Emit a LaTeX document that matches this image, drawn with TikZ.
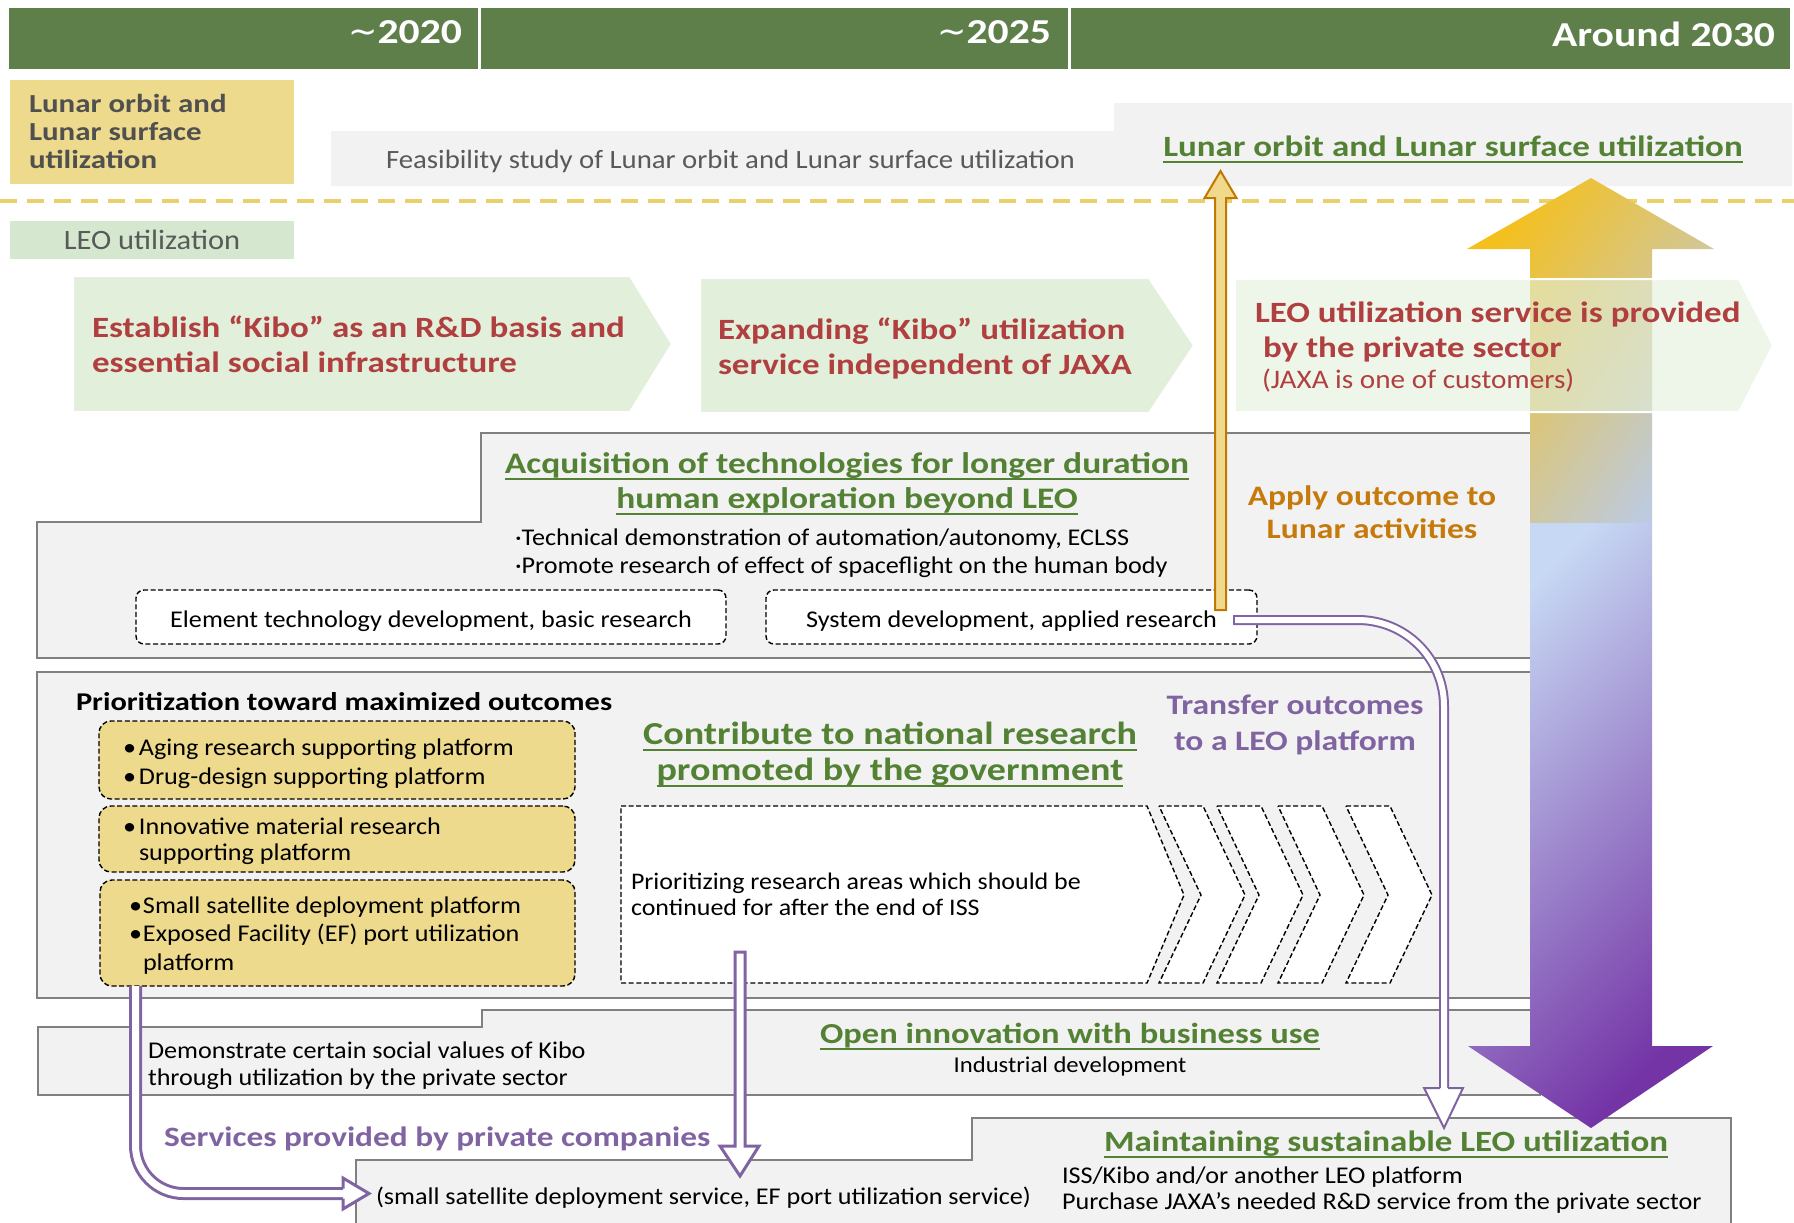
\documentclass[tikz,border=0pt]{standalone}
\usepackage{fontspec}
\setmainfont{Carlito}[FakeStretch=1.09]
\newfontfamily\bstr{Carlito}[FakeStretch=1.19]
\newfontfamily\djv{DejaVu Sans}
\newsavebox{\myulbox}
\newcommand{\myul}[1]{\sbox{\myulbox}{#1}\leavevmode\rlap{\vrule height -2.4pt depth 3.4pt width \wd\myulbox}\usebox{\myulbox}}
\usetikzlibrary{calc}
\definecolor{hdr}{HTML}{5E7F4A}
\definecolor{grn}{HTML}{548235}
\definecolor{txtred}{HTML}{B04040}
\definecolor{txtorg}{HTML}{C77A0C}
\definecolor{purp}{HTML}{8064A2}
\definecolor{ylw}{HTML}{EEDA8C}
\definecolor{ylwline}{HTML}{E9D06A}
\definecolor{gfill}{HTML}{F2F2F2}
\definecolor{gline}{HTML}{808080}
\definecolor{chev}{HTML}{E2EFDA}
\definecolor{leo}{HTML}{D5E8CF}
\definecolor{dgray}{HTML}{505050}
\definecolor{mgray}{HTML}{595959}
\definecolor{oafill}{HTML}{F0D98C}
\definecolor{oaline}{HTML}{C07800}
\definecolor{upY}{HTML}{F5C01C}
\definecolor{upB}{HTML}{BCCBE3}
\definecolor{dnB}{HTML}{C6D8F3}
\definecolor{dnP}{HTML}{7434A6}
\begin{document}
\begin{tikzpicture}[x=0.5pt,y=-0.5pt,
  every node/.style={inner sep=0pt,outer sep=0pt},
  hdrtxt/.style={text=white,font=\bstr\fontsize{17.5}{20}\selectfont\bfseries},
  graybox/.style={fill=gfill,draw=gline,line width=1pt},
  dbox/.style={draw=black,line width=0.7pt,dash pattern=on 2.5pt off 1.3pt},
  ybox/.style={dbox,fill=ylw,rounded corners=6pt},
  wbox/.style={dbox,fill=white,rounded corners=4pt},
  chevshape/.style={fill=chev,draw=white,line width=1pt},
  bodytxt/.style={font=\fontsize{12}{14}\selectfont},
  gtitle/.style={text=grn,font=\bstr\fontsize{14.7}{18}\selectfont\bfseries,align=center},
  chevtxt/.style={text=txtred,font=\bstr\fontsize{14.7}{17.5}\selectfont\bfseries,align=left},
  purptxt/.style={text=purp,font=\bstr\fontsize{14.1}{18}\selectfont\bfseries,align=center},
  hollowthin/.style={draw=purp,line width=1pt,double=white,double distance=3pt},
  hollowthick/.style={draw=purp,line width=1.5pt,double=white,double distance=3.5pt},
]
\useasboundingbox (0,0) rectangle (1794,1222);

% ---------- header ----------
\fill[hdr] (9,8) rectangle (478,69);
\fill[hdr] (481,8) rectangle (1068,69);
\fill[hdr] (1071,8) rectangle (1790,69);
\node[hdrtxt,anchor=base east] (y1) at (462,43) {{\djv\mdseries ∼}2020};
\node[hdrtxt,anchor=base east] (y2) at (1051,43) {{\djv\mdseries ∼}2025};
\node[hdrtxt,anchor=base east] (y3) at (1775,46) {Around 2030};

% ---------- lunar row ----------
\node[fill=ylw,minimum width=142pt,minimum height=52pt] (lunarlbl) at (152,132) {};
\node[anchor=base west,align=left,text=dgray,font=\bstr\fontsize{13}{14}\selectfont\bfseries] (lunarlbltxt) at (29,168) {Lunar orbit and\\Lunar surface\\utilization};
\fill[gfill] (331,131) -- (1114,131) -- (1114,103) -- (1792,103) -- (1792,186) -- (331,186) -- cycle;
\node[anchor=base west,text=mgray,font=\fontsize{13.2}{15}\selectfont] (feas) at (386,168) {Feasibility study of Lunar orbit and Lunar surface utilization};
\node[gtitle,anchor=base] (lunarhead) at (1453,156) {\myul{Lunar orbit and Lunar surface utilization}};

\draw[ylwline,line width=2pt,dash pattern=on 8.5pt off 5pt] (0,201) -- (1794,201);

% ---------- LEO row ----------
\node[fill=leo,minimum width=142pt,minimum height=19pt] (leolbl) at (152,240) {};
\node[anchor=base,text=mgray,font=\fontsize{14}{15}\selectfont] (leolbltxt) at (152,249) {LEO utilization};

\draw[chevshape] (73,276) -- (630,276) -- (672,344) -- (630,412) -- (73,412) -- cycle;
\draw[chevshape] (700,278) -- (1149,278) -- (1194,345.5) -- (1149,413) -- (700,413) -- cycle;
\node[chevtxt,anchor=base west] (c1t) at (92,372) {Establish “Kibo” as an R\&D basis and\\essential social infrastructure};
\node[chevtxt,anchor=base west] (c2t) at (718,374) {Expanding “Kibo” utilization\\service independent of JAXA};

% ---------- technology box ----------
\draw[graybox] (37,522) -- (481,522) -- (481,433) -- (1540,433) -- (1540,658) -- (37,658) -- cycle;
\node[gtitle,font=\bstr\fontsize{14.9}{17.5}\selectfont\bfseries,anchor=base] (acq) at (847,508) {\myul{Acquisition of technologies for longer duration}\\\myul{human exploration beyond LEO}};
\node[bodytxt,anchor=base west,align=left] (acqb) at (515,573) {·Technical demonstration of automation/autonomy, ECLSS\\·Promote research of effect of spaceflight on the human body};
\node[wbox,minimum width=295pt,minimum height=27pt] (elem) at (431,617) {};
\node[bodytxt,anchor=base] (elemt) at (431,627) {Element technology development, basic research};
\node[wbox,minimum width=245.5pt,minimum height=27pt] (sys) at (1011.5,617) {};
\node[bodytxt,anchor=base] (syst) at (1011.5,627) {System development, applied research};
\node[text=txtorg,font=\bstr\fontsize{14.1}{16.5}\selectfont\bfseries,align=center,anchor=base] (apply) at (1372,538) {Apply outcome to\\Lunar activities};

% ---------- prioritization box ----------
\draw[graybox] (37,672) rectangle (1540,998);
\node[anchor=base west,font=\bstr\fontsize{12.8}{15}\selectfont\bfseries] (prio) at (76,710) {Prioritization toward maximized outcomes};
\node[ybox,minimum width=238pt,minimum height=39pt] (boxa) at (337,760) {};
\node[ybox,minimum width=238pt,minimum height=33pt] (boxb) at (337,839) {};
\node[ybox,minimum width=237.5pt,minimum height=53pt] (boxc) at (337.5,933) {};
\node[anchor=base west,align=left,font=\fontsize{12}{14.5}\selectfont] (boxat) at (123,784) {\makebox[8pt][l]{•}Aging research supporting platform\\\makebox[8pt][l]{•}Drug-design supporting platform};
\node[anchor=base west,align=left,font=\fontsize{12}{13}\selectfont] (boxbt) at (123,860) {\makebox[8pt][l]{•}Innovative material research\\\hspace*{8pt}supporting platform};
\node[anchor=base west,align=left,font=\fontsize{12}{14.2}\selectfont] (boxct) at (129,970) {\makebox[7pt][l]{•}Small satellite deployment platform\\\makebox[7pt][l]{•}Exposed Facility (EF) port utilization\\\hspace*{7pt}platform};
\node[gtitle,font=\bstr\fontsize{16}{18}\selectfont\bfseries,anchor=base] (contrib) at (890,780) {\myul{Contribute to national research}\\\myul{promoted by the government}};
\node[purptxt,anchor=base] (transfer) at (1295,750) {Transfer outcomes\\to a LEO platform};
\draw[dbox,fill=white] (621,806) -- (1147,806) -- (1184,895) -- (1147,983) -- (621,983) -- cycle;
\foreach \xa in {1159,1217,1278,1346}{
  \draw[dbox,fill=white] (\xa,806) -- (\xa+44,806) -- (\xa+86,895) -- (\xa+44,983) -- (\xa,983) -- (\xa+42,895) -- cycle;
}
\node[anchor=base west,align=left,font=\fontsize{11.9}{13}\selectfont] (prt) at (631,915) {Prioritizing research areas which should be\\continued for after the end of ISS};

% ---------- open innovation box ----------
\draw[graybox] (38,1027) -- (482,1027) -- (482,1010) -- (1540,1010) -- (1540,1095) -- (38,1095) -- cycle;
\node[gtitle,font=\bstr\fontsize{14.5}{18}\selectfont\bfseries,anchor=base] (openi) at (1070,1043) {\myul{Open innovation with business use}};
\node[anchor=base,font=\fontsize{11.3}{13}\selectfont] (indus) at (1070,1072) {Industrial development};
\node[anchor=base west,align=left,font=\fontsize{12}{13.5}\selectfont] (demo) at (148,1085) {Demonstrate certain social values of Kibo\\through utilization by the private sector};

% ---------- bottom box ----------
\draw[graybox] (356,1235) -- (356,1160) -- (972,1160) -- (972,1118) -- (1731,1118) -- (1731,1235);
\node[purptxt,font=\bstr\fontsize{14}{18}\selectfont\bfseries,anchor=base west] (serv) at (164,1146) {Services provided by private companies};
\node[bodytxt,anchor=base west] (servt) at (376,1204) {(small satellite deployment service, EF port utilization service)};
\node[gtitle,anchor=base] (maint) at (1386,1151) {\myul{Maintaining sustainable LEO utilization}};
\node[anchor=base west,align=left,font=\fontsize{12}{13}\selectfont] (isst) at (1062,1209) {ISS/Kibo and/or another LEO platform\\Purchase JAXA’s needed R\&D service from the private sector};

% ---------- big two-way arrow ----------
\shade[top color=upY,bottom color=upB,shading angle=55] (1530,523) -- (1530,249) -- (1467,249) -- (1591,178) -- (1714,249) -- (1652,249) -- (1652,523) -- cycle;
\shade[top color=dnB,bottom color=dnP,shading angle=45] (1530,523) -- (1530,1046) -- (1468,1046) -- (1591,1128) -- (1713,1046) -- (1652,1046) -- (1652,523) -- cycle;

% chevron 3 over the shaft
\draw[chevshape,fill opacity=0.6] (1235,279) -- (1739,279) -- (1773,345.5) -- (1739,412) -- (1235,412) -- cycle;
\node[chevtxt,anchor=base west] (c3t) at (1255,357) {LEO utilization service is provided\\\hspace*{4pt}by the private sector};
\node[anchor=base west,text=txtred,font=\fontsize{13.4}{15}\selectfont] (c3s) at (1262,388) {(JAXA is one of customers)};

% ---------- orange arrow ----------
\coordinate (oa0) at (1220.5,610);
\coordinate (oa1) at (1220.5,171);
\draw[draw=oaline,fill=oafill,line width=1pt] ($(oa0)+(-5.5,0)$) -- ($(oa1)+(-5.5,27)$) -- ($(oa1)+(-16,27)$) -- (oa1) -- ($(oa1)+(16,27)$) -- ($(oa1)+(5.5,27)$) -- ($(oa0)+(5.5,0)$) -- cycle;

% ---------- transfer arrow ----------
\coordinate (ta0) at (1234,620);
\coordinate (ta1) at (1444,1128);
\draw[hollowthin,rounded corners=43pt] (ta0) -- (ta0 -| ta1) -- ($(ta1)+(0,-39)$);
\draw[purp,line width=1pt] ($(ta0)+(0,-5)$) -- ($(ta0)+(0,5)$);
\fill[white] ($(ta1)+(-20,-40)$) -- (ta1) -- ($(ta1)+(19,-40)$) -- cycle;
\draw[purp,line width=1pt,line join=miter] ($(ta1)+(-4,-40)$) -- ($(ta1)+(-20,-40)$) -- (ta1) -- ($(ta1)+(19,-40)$) -- ($(ta1)+(4,-40)$);

% ---------- left purple arrow ----------
\coordinate (la0) at (135.5,986);
\coordinate (la1) at (369,1193.5);
\draw[hollowthick,rounded corners=24pt] (la0) -- (la0 |- la1) -- ($(la1)+(-25,0)$);
\fill[white] ($(la1)+(-26,-15.5)$) -- (la1) -- ($(la1)+(-26,15.5)$) -- cycle;
\draw[purp,line width=1.5pt,line join=miter] ($(la1)+(-26,-5)$) -- ($(la1)+(-26,-15.5)$) -- (la1) -- ($(la1)+(-26,15.5)$) -- ($(la1)+(-26,5)$);

% ---------- middle purple arrow ----------
\coordinate (ma0) at (740,952);
\coordinate (ma1) at (740,1176);
\draw[purp,fill=white,line width=1.5pt,line join=miter] ($(ma0)+(-5,0)$) -- ($(ma1)+(-5,-30)$) -- ($(ma1)+(-20,-30)$) -- (ma1) -- ($(ma1)+(19,-30)$) -- ($(ma1)+(5,-30)$) -- ($(ma0)+(5,0)$) -- cycle;
\end{tikzpicture}
\end{document}
